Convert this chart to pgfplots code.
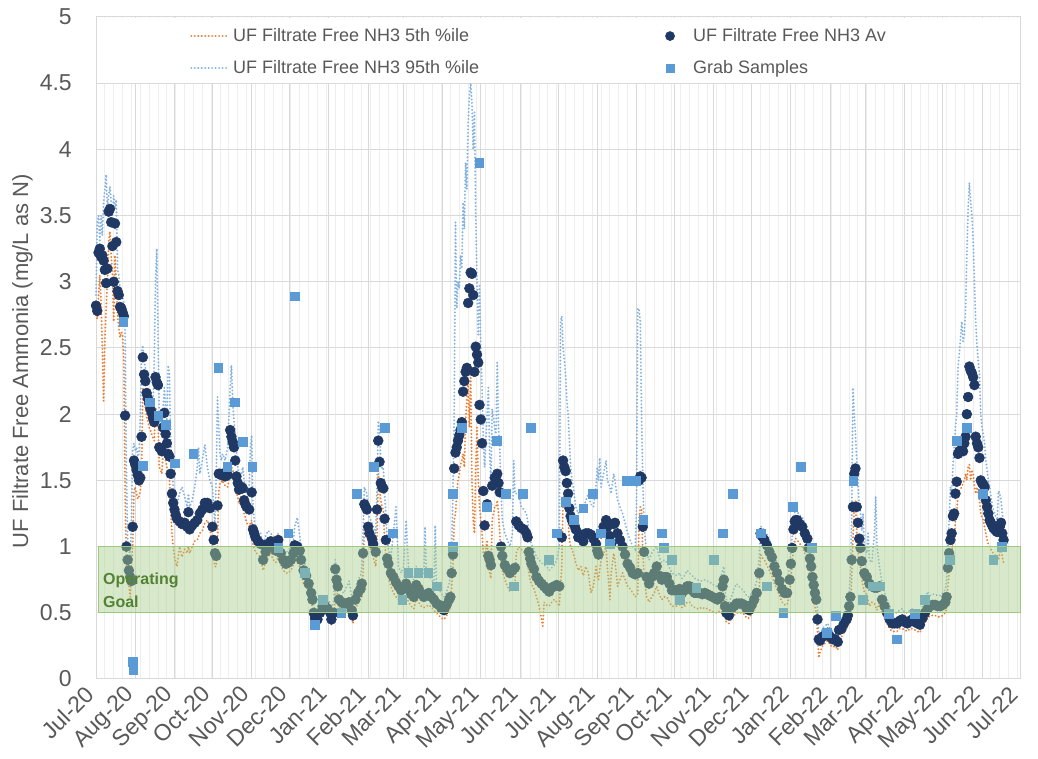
\documentclass[border=0pt]{standalone}
\usepackage{pgfplots}
\pgfplotsset{compat=1.18}
\usepackage{fontspec}
\setmainfont{Liberation Sans}
\definecolor{navy}{HTML}{203864}
\definecolor{grab}{HTML}{5B9BD5}
\definecolor{org}{HTML}{ED7D31}
\definecolor{lblue}{HTML}{84B2E0}
\definecolor{txt}{HTML}{595959}
\definecolor{gridc}{HTML}{D9D9D9}
\definecolor{gridm}{HTML}{EEEEEE}
\definecolor{bandf}{HTML}{A6CF8A}
\definecolor{bandd}{HTML}{9CC97C}
\definecolor{goal}{HTML}{548235}
\tikzset{dotline/.style={line width=1.6pt, dash pattern=on 0.01pt off 2.6pt, line cap=round}}
\begin{document}
\begin{tikzpicture}
\begin{axis}[
 set layers,
 scale only axis, width=693pt, height=496.5pt,
 xmin=0, xmax=730, ymin=0, ymax=5, clip=false,
 xtick={0,31,62,92,123,153,184,215,243,274,304,335,365,396,427,457,488,518,549,580,608,639,669,700,730},
 xticklabels={Jul-20,Aug-20,Sep-20,Oct-20,Nov-20,Dec-20,Jan-21,Feb-21,Mar-21,Apr-21,May-21,Jun-21,Jul-21,Aug-21,Sep-21,Oct-21,Nov-21,Dec-21,Jan-22,Feb-22,Mar-22,Apr-22,May-22,Jun-22,Jul-22},
 minor xtick={7,14,...,728},
 ytick={0,0.5,...,5},
 yticklabels={0,0.5,1,1.5,2,2.5,3,3.5,4,4.5,5},
 grid=both,
 major grid style={draw=gridc, line width=0.75pt},
 minor grid style={draw=gridm, line width=0.75pt},
 major tick length=0pt, minor tick length=0pt,
 axis line style={draw=gridc, line width=0.75pt},
 tick label style={font=\fontsize{17.25}{20}\selectfont, text=txt},
 xticklabel style={rotate=45, anchor=north east, inner sep=1pt, xshift=-8pt, yshift=4.8pt},
 yticklabel style={anchor=east, inner sep=0pt, xshift=-18pt},
 ylabel={UF Filtrate Free Ammonia (mg/L as N)},
 ylabel style={font=\fontsize{16.5}{19}\selectfont, text=txt, at={(rel axis cs:0,0.48)}, anchor=south, yshift=44pt},
 legend columns=2,
 legend cell align=left,
 legend image code/.code={\draw[mark repeat=2,mark phase=2,#1] plot coordinates {(0pt,0pt) (14.25pt,0pt) (28.5pt,0pt)};},
 legend style={at={(rel axis cs:0.1017,0.987)}, anchor=north west, draw=none, fill=none, inner sep=0pt,
   font=\fontsize{13.5}{16}\selectfont, text=txt, row sep=9pt,
   /tikz/every even column/.append style={column sep=128pt}},
]
% 5th percentile
\addplot[org, dotline, forget plot] coordinates {
(0,2.75)(1,2.72)(2,2.90)(3,3.05)(4,2.85)(5,2.50)(6,2.10)(7,2.55)(8,2.80)(9,3.00)(10,3.30)(11,3.38)(12,3.20)(13,3.05)(14,2.70)(15,3.20)(16,3.00)(17,2.75)(18,2.65)(19,2.58)(20,2.62)(21,2.60)(22,2.40)(23,1.40)(24,0.88)(25,0.78)(26,0.70)(27,0.62)(28,0.85)(29,1.00)(30,1.42)(31,1.45)(32,1.40)(33,1.36)(34,1.38)(35,1.42)(36,1.55)(37,2.20)(38,2.10)(39,2.05)(40,1.98)(41,1.95)(42,1.90)(43,1.88)(44,1.85)(45,1.82)(46,1.80)(47,2.05)(48,2.02)(49,1.95)(50,1.60)(51,1.58)(52,1.55)(53,1.70)(54,1.80)(55,1.65)(56,1.60)(57,1.55)(58,1.52)(59,1.30)(60,1.10)(61,1.00)(62,0.92)(63,0.88)(64,0.85)(66,1.00)(68,0.92)(70,0.98)(72,0.95)(73,1.00)(74,0.95)(76,1.00)(78,1.04)(80,1.05)(82,1.10)(84,1.12)(86,1.18)(88,1.20)(90,1.15)(92,0.98)(93,0.90)(94,0.85)(95,0.85)(96,1.05)(97,1.42)(98,1.48)(99,1.48)(100,1.50)(101,1.48)(102,1.46)(104,1.45)(106,1.55)(107,1.60)(108,1.58)(109,1.55)(110,1.50)(111,1.40)(112,1.38)(113,1.32)(115,1.35)(116,1.33)(117,1.25)(118,1.22)(119,1.18)(121,1.15)(123,1.20)(124,1.02)(125,0.98)(126,0.96)(128,0.94)(130,0.92)(132,0.82)(134,0.88)(136,0.92)(138,0.95)(140,0.90)(142,0.88)(144,0.92)(146,0.86)(148,0.82)(150,0.80)(152,0.80)(154,0.82)(156,0.86)(157,0.90)(159,0.88)(161,0.85)(162,0.80)(164,0.72)(166,0.70)(168,0.65)(170,0.58)(171,0.54)(172,0.46)(173,0.42)(175,0.40)(177,0.45)(179,0.50)(181,0.50)(183,0.48)(185,0.44)(186,0.41)(188,0.45)(189,0.72)(190,0.68)(191,0.62)(192,0.55)(194,0.52)(196,0.50)(198,0.50)(200,0.52)(202,0.46)(203,0.42)(205,0.52)(207,0.58)(209,0.60)(210,0.62)(211,0.80)(212,1.15)(213,1.18)(214,1.15)(215,1.05)(216,1.00)(218,0.96)(219,0.92)(221,0.85)(222,1.05)(223,1.55)(224,1.45)(225,1.35)(226,1.30)(227,1.28)(228,1.05)(229,0.92)(230,0.80)(231,0.76)(233,0.70)(235,0.65)(237,0.62)(239,0.60)(241,0.57)(243,0.60)(245,0.62)(247,0.58)(249,0.55)(251,0.53)(253,0.60)(255,0.58)(257,0.55)(259,0.54)(261,0.55)(263,0.56)(265,0.54)(267,0.52)(269,0.50)(271,0.48)(273,0.46)(275,0.45)(277,0.48)(279,0.52)(280,0.55)(281,0.70)(282,0.85)(283,1.20)(284,1.25)(285,1.40)(286,1.50)(287,1.55)(288,1.62)(289,1.65)(290,1.70)(291,1.60)(292,1.95)(293,2.10)(294,2.25)(295,1.90)(296,2.30)(297,1.50)(298,1.20)(299,1.10)(300,1.60)(301,1.90)(302,1.50)(303,1.30)(304,1.20)(305,1.10)(306,0.95)(307,0.92)(309,1.05)(310,0.82)(311,0.80)(312,0.76)(313,1.20)(315,1.30)(316,1.30)(317,1.35)(318,1.25)(319,1.10)(320,0.88)(321,0.82)(323,0.75)(325,0.70)(327,0.66)(329,0.70)(331,0.72)(332,0.95)(334,1.00)(336,0.98)(338,0.96)(340,0.92)(341,0.88)(342,0.80)(343,0.75)(344,0.72)(346,0.68)(348,0.62)(350,0.55)(352,0.45)(353,0.40)(354,0.58)(356,0.56)(358,0.55)(360,0.58)(362,0.60)(364,0.58)(366,0.55)(368,0.85)(369,1.35)(370,1.40)(371,1.38)(372,1.30)(373,1.20)(374,1.05)(375,1.00)(376,0.98)(377,0.95)(378,0.92)(379,0.88)(381,0.82)(383,0.85)(385,0.78)(387,0.85)(389,0.80)(391,0.65)(393,0.70)(395,0.85)(396,0.78)(397,0.75)(399,0.90)(401,0.95)(403,1.00)(404,0.85)(406,0.60)(407,0.80)(409,0.95)(410,0.90)(412,0.70)(414,0.75)(416,0.80)(418,0.75)(420,0.70)(422,0.68)(424,0.65)(426,0.62)(428,0.64)(429,1.20)(430,1.30)(431,1.28)(432,0.95)(433,0.78)(435,0.62)(437,0.58)(439,0.62)(441,0.65)(443,0.70)(445,0.64)(447,0.60)(449,0.62)(451,0.62)(453,0.58)(455,0.55)(457,0.55)(459,0.55)(461,0.56)(463,0.54)(465,0.55)(467,0.58)(469,0.58)(471,0.55)(473,0.54)(475,0.53)(477,0.54)(479,0.53)(481,0.54)(483,0.53)(485,0.52)(487,0.51)(489,0.50)(491,0.50)(493,0.52)(495,0.60)(496,0.64)(497,0.47)(498,0.43)(500,0.42)(502,0.46)(504,0.48)(506,0.50)(508,0.50)(510,0.50)(512,0.49)(514,0.46)(516,0.46)(518,0.49)(520,0.52)(522,0.56)(524,0.70)(525,0.95)(526,0.92)(528,0.90)(530,0.86)(532,0.82)(534,0.78)(536,0.72)(538,0.68)(540,0.63)(542,0.58)(544,0.56)(546,0.56)(548,0.64)(549,0.75)(550,0.86)(551,0.98)(552,1.05)(553,1.06)(554,1.05)(556,1.02)(558,1.00)(560,0.95)(562,0.92)(563,0.86)(564,0.78)(565,0.72)(566,0.66)(567,0.60)(568,0.55)(569,0.50)(570,0.35)(571,0.16)(572,0.20)(574,0.25)(576,0.27)(578,0.29)(580,0.26)(582,0.24)(584,0.25)(586,0.22)(587,0.30)(589,0.32)(591,0.35)(593,0.38)(594,0.40)(595,0.46)(596,0.52)(597,0.75)(598,1.05)(599,1.30)(600,1.35)(601,1.10)(602,0.98)(603,0.90)(604,0.84)(605,0.75)(607,0.66)(609,0.64)(611,0.55)(613,0.58)(615,0.57)(617,0.52)(619,0.58)(621,0.50)(623,0.46)(625,0.42)(627,0.38)(629,0.36)(631,0.36)(633,0.36)(635,0.38)(637,0.38)(639,0.37)(641,0.36)(643,0.38)(645,0.38)(647,0.37)(649,0.36)(651,0.35)(653,0.40)(655,0.43)(657,0.46)(659,0.48)(661,0.48)(663,0.48)(665,0.47)(667,0.47)(669,0.48)(671,0.50)(672,0.53)(673,0.70)(674,0.80)(675,0.90)(676,0.95)(677,1.05)(678,1.05)(679,1.20)(680,1.25)(681,1.40)(682,1.42)(684,1.45)(685,1.48)(686,1.50)(687,1.55)(688,1.50)(689,1.60)(690,1.62)(691,1.50)(692,1.58)(693,1.55)(694,1.45)(695,1.40)(696,1.45)(697,1.40)(698,1.35)(699,1.25)(700,1.22)(701,1.20)(702,1.15)(703,1.10)(704,1.05)(705,1.02)(706,1.00)(707,0.98)(708,0.96)(709,0.95)(710,0.94)(711,0.93)(712,0.92)(713,0.90)(714,0.95)(715,1.00)(716,0.92)(717,0.88)
};
% Average
\addplot[only marks, mark=*, mark size=3.7pt, mark options={draw=navy, fill=navy}, forget plot] coordinates {
(0,2.82)(1,2.78)(2,3.22)(3,3.25)(4,3.19)(5,3.20)(6,3.16)(7,3.09)(8,2.99)(9,3.10)(10,3.53)(11,3.55)(12,3.45)(13,3.27)(14,3.00)(15,3.44)(16,3.30)(17,2.93)(18,2.90)(19,2.81)(20,2.80)(21,2.77)(22,2.74)(23,1.99)(24,1.00)(25,0.90)(26,0.82)(27,0.77)(28,0.74)(29,1.15)(30,1.65)(31,1.62)(32,1.58)(33,1.54)(34,1.50)(35,1.52)(36,1.83)(37,2.43)(38,2.30)(39,2.25)(40,2.16)(41,2.12)(42,2.08)(43,2.04)(44,2.01)(45,1.97)(46,1.94)(47,2.28)(48,2.24)(49,2.22)(50,1.75)(51,1.74)(52,1.72)(53,1.90)(54,2.01)(55,1.85)(56,1.78)(57,1.70)(58,1.68)(59,1.55)(60,1.40)(61,1.33)(62,1.28)(63,1.24)(64,1.21)(66,1.19)(68,1.17)(70,1.18)(72,1.15)(73,1.26)(74,1.13)(76,1.16)(78,1.18)(80,1.20)(82,1.25)(84,1.28)(86,1.33)(88,1.33)(90,1.29)(92,1.15)(93,1.05)(94,0.95)(95,0.93)(96,1.31)(97,1.55)(98,1.55)(99,1.54)(100,1.55)(101,1.54)(102,1.53)(104,1.54)(106,1.88)(107,1.83)(108,1.79)(109,1.75)(110,1.65)(111,1.53)(112,1.48)(113,1.43)(115,1.45)(116,1.44)(117,1.35)(118,1.32)(119,1.30)(121,1.28)(123,1.41)(124,1.13)(125,1.10)(126,1.07)(128,1.04)(130,1.02)(132,0.90)(134,0.96)(136,1.02)(138,1.04)(140,1.00)(142,0.97)(144,1.05)(146,0.95)(148,0.90)(150,0.87)(152,0.88)(154,0.90)(156,0.95)(157,1.01)(159,1.00)(161,0.97)(162,0.90)(164,0.82)(166,0.78)(168,0.72)(170,0.65)(171,0.60)(172,0.50)(173,0.46)(175,0.45)(177,0.50)(179,0.55)(181,0.55)(183,0.53)(185,0.50)(186,0.45)(188,0.50)(189,0.83)(190,0.75)(191,0.70)(192,0.60)(194,0.58)(196,0.57)(198,0.57)(200,0.58)(202,0.52)(203,0.48)(205,0.60)(207,0.65)(209,0.68)(210,0.72)(211,0.95)(212,1.32)(213,1.30)(214,1.28)(215,1.15)(216,1.10)(218,1.06)(219,1.02)(221,0.96)(222,1.28)(223,1.80)(224,1.64)(225,1.48)(226,1.45)(227,1.44)(228,1.21)(229,1.05)(230,0.91)(231,0.87)(233,0.80)(235,0.77)(237,0.73)(239,0.70)(241,0.67)(243,0.68)(245,0.72)(247,0.68)(249,0.64)(251,0.62)(253,0.71)(255,0.68)(257,0.64)(259,0.62)(261,0.64)(263,0.65)(265,0.62)(267,0.60)(269,0.57)(271,0.56)(273,0.53)(275,0.52)(277,0.56)(279,0.60)(280,0.62)(281,0.80)(282,0.94)(283,1.59)(284,1.71)(285,1.75)(286,1.80)(287,1.84)(288,1.88)(289,1.94)(290,2.17)(291,2.25)(292,2.32)(293,2.35)(294,2.84)(295,2.95)(296,3.07)(297,3.06)(298,2.90)(299,2.32)(300,2.51)(301,2.45)(302,2.39)(303,2.07)(304,1.96)(305,1.78)(306,1.42)(307,1.16)(309,1.32)(310,0.93)(311,0.90)(312,0.86)(313,1.46)(315,1.52)(316,1.50)(317,1.55)(318,1.48)(319,1.41)(320,1.00)(321,0.93)(323,0.86)(325,0.83)(327,0.80)(329,0.82)(331,0.84)(332,1.19)(334,1.16)(336,1.14)(338,1.13)(340,1.10)(341,1.07)(342,0.96)(343,0.91)(344,0.87)(346,0.83)(348,0.77)(350,0.74)(352,0.72)(354,0.70)(356,0.68)(358,0.66)(360,0.69)(362,0.70)(364,0.71)(366,0.70)(368,1.07)(369,1.65)(370,1.60)(371,1.57)(372,1.48)(373,1.40)(374,1.29)(375,1.23)(376,1.20)(377,1.18)(378,1.16)(379,1.13)(381,1.07)(383,1.09)(385,1.04)(387,1.10)(389,1.10)(391,1.09)(393,1.06)(395,1.02)(396,0.97)(397,0.94)(399,1.10)(401,1.15)(403,1.20)(404,1.15)(406,1.08)(407,1.02)(409,1.17)(410,1.18)(412,1.10)(414,1.05)(416,1.00)(418,0.94)(420,0.87)(422,0.84)(424,0.80)(426,0.79)(428,0.80)(429,1.50)(430,1.53)(431,1.52)(432,1.15)(433,0.96)(435,0.77)(437,0.72)(439,0.77)(441,0.80)(443,0.85)(445,0.78)(447,0.75)(449,0.77)(451,0.77)(453,0.72)(455,0.67)(457,0.67)(459,0.67)(461,0.68)(463,0.65)(465,0.67)(467,0.70)(469,0.70)(471,0.67)(473,0.65)(475,0.65)(477,0.65)(479,0.64)(481,0.65)(483,0.64)(485,0.63)(487,0.62)(489,0.61)(491,0.60)(493,0.62)(495,0.70)(496,0.75)(497,0.55)(498,0.50)(500,0.48)(502,0.53)(504,0.55)(506,0.57)(508,0.57)(510,0.57)(512,0.56)(514,0.53)(516,0.52)(518,0.56)(520,0.60)(522,0.65)(524,0.80)(525,1.10)(526,1.08)(528,1.05)(530,1.01)(532,0.96)(534,0.92)(536,0.85)(538,0.80)(540,0.74)(542,0.68)(544,0.65)(546,0.65)(548,0.75)(549,0.87)(550,0.99)(551,1.13)(552,1.19)(553,1.20)(554,1.20)(556,1.17)(558,1.15)(560,1.10)(562,1.06)(563,0.99)(564,0.91)(565,0.85)(566,0.77)(567,0.71)(568,0.65)(569,0.60)(570,0.45)(571,0.30)(572,0.29)(574,0.32)(576,0.33)(578,0.35)(580,0.32)(582,0.30)(584,0.30)(586,0.28)(587,0.37)(589,0.38)(591,0.42)(593,0.45)(594,0.48)(595,0.55)(596,0.62)(597,0.90)(598,1.30)(599,1.55)(600,1.59)(601,1.30)(602,1.18)(603,1.06)(604,0.99)(605,0.89)(607,0.80)(609,0.77)(611,0.72)(613,0.70)(615,0.69)(617,0.69)(619,0.70)(621,0.60)(623,0.55)(625,0.50)(627,0.45)(629,0.42)(631,0.42)(633,0.42)(635,0.44)(637,0.45)(639,0.43)(641,0.42)(643,0.44)(645,0.45)(647,0.43)(649,0.42)(651,0.41)(653,0.46)(655,0.50)(657,0.53)(659,0.55)(661,0.56)(663,0.56)(665,0.55)(667,0.55)(669,0.56)(671,0.58)(672,0.62)(673,0.84)(674,0.95)(675,1.05)(676,1.10)(677,1.23)(678,1.25)(679,1.40)(680,1.49)(681,1.70)(682,1.72)(684,1.74)(685,1.72)(686,1.78)(687,1.83)(688,2.00)(689,2.13)(690,2.36)(691,2.33)(692,2.31)(693,2.28)(694,2.22)(695,1.83)(696,1.78)(697,1.75)(698,1.67)(699,1.50)(700,1.48)(701,1.47)(702,1.45)(703,1.35)(704,1.30)(705,1.25)(706,1.20)(707,1.18)(708,1.16)(709,1.14)(710,1.13)(711,1.12)(712,1.11)(713,1.12)(714,1.15)(715,1.18)(716,1.10)(717,1.05)
};
% 95th percentile
\addplot[lblue, dotline, forget plot] coordinates {
(0,2.90)(1,3.45)(2,3.50)(3,3.30)(4,3.50)(5,3.35)(6,3.60)(7,3.70)(8,3.81)(9,3.55)(10,3.65)(11,3.72)(12,3.60)(13,3.50)(14,3.65)(15,3.55)(16,3.62)(17,3.10)(18,3.05)(19,2.95)(20,2.92)(21,2.88)(22,2.85)(23,2.60)(24,1.60)(25,1.05)(26,0.98)(27,0.92)(28,1.20)(29,1.73)(30,1.78)(31,1.72)(32,1.75)(33,1.68)(34,1.70)(35,2.00)(36,2.47)(37,2.52)(38,2.40)(39,2.35)(40,2.25)(41,2.20)(42,2.18)(43,2.15)(44,2.10)(45,2.05)(46,2.40)(47,3.00)(48,3.25)(49,2.60)(50,2.00)(51,1.90)(52,1.85)(53,2.05)(54,2.20)(55,2.05)(56,1.95)(57,2.37)(58,2.30)(59,1.80)(60,1.60)(61,1.45)(62,1.40)(63,1.35)(64,1.32)(66,1.40)(68,1.45)(70,1.38)(72,1.30)(73,1.40)(74,1.30)(76,1.35)(78,1.45)(80,1.60)(81,1.75)(82,1.55)(84,1.65)(86,1.77)(88,1.60)(90,1.50)(92,1.45)(93,1.30)(94,1.15)(95,1.55)(96,2.13)(97,1.90)(98,1.70)(99,1.65)(100,1.70)(101,1.68)(102,1.65)(104,1.75)(106,2.20)(107,2.37)(108,2.10)(109,1.95)(110,1.85)(111,1.70)(112,1.60)(113,1.55)(115,1.55)(116,1.60)(117,1.50)(118,1.45)(119,1.40)(121,1.45)(122,1.75)(123,1.84)(124,1.30)(125,1.20)(126,1.15)(128,1.12)(130,1.10)(132,1.00)(134,1.08)(136,1.12)(138,1.10)(140,1.08)(142,1.05)(144,1.10)(146,1.02)(148,0.98)(150,0.95)(152,0.97)(154,1.00)(156,1.05)(157,1.15)(159,1.22)(161,1.08)(162,1.00)(164,0.90)(166,0.85)(168,0.80)(170,0.72)(171,0.66)(172,0.56)(173,0.52)(175,0.52)(177,0.57)(179,0.62)(181,0.62)(183,0.60)(185,0.57)(186,0.52)(188,0.60)(189,0.90)(190,0.83)(191,0.78)(192,0.68)(194,0.66)(196,0.65)(198,0.70)(200,0.74)(202,0.62)(203,0.56)(205,0.68)(207,0.75)(209,0.78)(210,0.85)(211,1.10)(212,1.45)(213,1.42)(214,1.40)(215,1.25)(216,1.22)(218,1.18)(219,1.15)(221,1.10)(222,1.45)(223,1.95)(224,1.88)(225,1.65)(226,1.58)(227,1.60)(228,1.40)(229,1.25)(230,1.05)(231,0.98)(233,0.92)(235,1.10)(237,1.30)(239,0.85)(241,0.80)(243,0.85)(245,1.20)(247,0.82)(249,0.78)(251,0.75)(253,0.85)(255,0.82)(257,0.78)(259,0.80)(260,1.15)(261,0.78)(263,0.78)(265,0.75)(267,0.72)(268,1.16)(269,0.70)(271,0.68)(273,0.64)(275,0.62)(277,0.66)(279,0.72)(280,0.80)(281,1.00)(282,1.40)(283,2.00)(284,3.45)(285,2.80)(286,3.00)(287,2.95)(288,3.20)(289,3.10)(290,3.60)(291,3.40)(292,3.90)(293,3.70)(294,4.20)(295,4.40)(296,4.50)(297,4.35)(298,4.00)(299,4.28)(300,3.50)(301,3.00)(302,2.60)(303,2.97)(304,2.50)(305,2.20)(306,1.80)(307,1.60)(309,2.00)(310,2.20)(311,1.70)(312,1.50)(313,2.04)(315,1.90)(316,1.85)(317,2.39)(318,1.90)(319,1.75)(320,1.40)(321,1.20)(323,1.10)(325,1.05)(327,1.00)(329,1.10)(330,1.65)(331,1.40)(332,1.40)(334,1.38)(336,1.30)(338,1.28)(340,1.25)(341,1.20)(342,1.10)(344,1.02)(346,0.98)(348,0.92)(350,0.90)(352,0.88)(354,0.86)(356,0.85)(358,0.82)(360,0.84)(362,0.86)(364,0.90)(366,1.00)(367,2.70)(368,2.74)(369,2.50)(370,2.41)(371,2.30)(372,2.10)(373,2.00)(374,1.80)(375,1.60)(376,1.50)(377,1.45)(378,1.38)(379,1.30)(381,1.25)(383,1.30)(385,1.28)(387,1.35)(389,1.40)(391,1.32)(393,1.30)(395,1.45)(396,1.60)(397,1.50)(398,1.67)(399,1.45)(401,1.55)(403,1.65)(404,1.50)(406,1.45)(407,1.40)(409,1.55)(410,1.50)(412,1.35)(414,1.30)(416,1.25)(418,1.18)(420,1.10)(422,1.05)(424,1.00)(426,0.98)(427,1.30)(428,2.80)(429,2.79)(430,2.70)(431,2.00)(432,1.50)(433,1.15)(435,0.95)(437,0.90)(439,0.95)(441,0.98)(443,1.00)(445,0.92)(447,0.88)(449,0.90)(451,0.88)(453,0.84)(455,0.80)(457,0.79)(459,0.78)(461,0.80)(463,0.76)(465,0.78)(467,0.82)(469,0.80)(471,0.78)(473,0.76)(475,0.75)(477,0.74)(479,0.74)(481,0.75)(483,0.74)(485,0.73)(487,0.72)(489,0.70)(491,0.70)(493,0.73)(495,0.82)(496,0.85)(497,0.66)(498,0.60)(500,0.58)(502,0.62)(504,0.68)(506,0.72)(508,0.70)(510,0.68)(512,0.66)(514,0.63)(516,0.62)(518,0.65)(520,0.68)(522,0.74)(524,0.92)(525,1.15)(526,1.15)(528,1.12)(530,1.10)(532,1.05)(534,1.00)(536,0.93)(538,0.88)(540,0.82)(542,0.76)(544,0.74)(546,0.74)(548,0.85)(549,0.97)(550,1.08)(551,1.22)(552,1.26)(553,1.28)(554,1.26)(556,1.24)(558,1.22)(560,1.18)(562,1.12)(563,1.05)(564,0.98)(565,0.92)(566,0.85)(567,0.78)(568,0.72)(569,0.66)(570,0.52)(571,0.36)(572,0.34)(574,0.38)(576,0.40)(578,0.42)(580,0.38)(582,0.36)(584,0.36)(586,0.34)(587,0.42)(589,0.45)(591,0.50)(593,0.53)(594,0.56)(595,0.64)(596,0.80)(597,1.20)(598,2.20)(599,2.00)(600,1.85)(601,1.65)(602,1.50)(603,1.30)(604,1.26)(605,1.12)(606,1.25)(607,1.00)(609,0.95)(610,1.10)(611,0.90)(613,0.88)(615,1.10)(616,1.38)(617,1.00)(619,0.85)(621,0.72)(623,0.65)(625,0.60)(627,0.55)(629,0.50)(631,0.50)(633,0.50)(635,0.52)(637,0.53)(639,0.50)(641,0.50)(643,0.52)(645,0.53)(647,0.51)(649,0.50)(651,0.49)(653,0.55)(655,0.60)(657,0.66)(659,0.63)(661,0.64)(663,0.64)(665,0.63)(667,0.63)(669,0.65)(671,0.68)(672,0.75)(673,1.00)(674,1.20)(675,1.45)(676,1.40)(677,1.60)(678,1.75)(679,1.90)(680,2.00)(681,2.35)(682,2.45)(684,2.70)(685,2.55)(686,2.60)(687,2.80)(688,3.20)(689,3.55)(690,3.75)(691,3.60)(692,3.50)(693,3.30)(694,3.00)(695,2.70)(696,2.52)(697,2.40)(698,2.30)(699,2.00)(700,1.90)(701,1.85)(702,1.78)(703,1.65)(704,1.58)(705,1.50)(706,1.45)(707,1.38)(708,1.32)(709,1.28)(710,1.25)(711,1.22)(712,1.20)(713,1.42)(714,1.40)(715,1.35)(716,1.25)(717,1.18)
};
% Grab samples
\addplot[only marks, mark=square*, mark size=3.3pt, mark options={draw=grab, fill=grab}, forget plot] coordinates {
(21.6,2.70)(29,0.13)(29.5,0.07)(36.8,1.61)(42.7,2.09)(49.2,1.99)(55.3,1.92)(62.4,1.63)(76.9,1.70)(96.6,2.35)(103.7,1.60)(109.8,2.09)(115.9,1.79)(123.5,1.60)(144,0.99)(151.9,1.10)(157.2,2.89)(165.1,0.80)(173,0.41)(179.3,0.60)(193.7,0.50)(205.9,1.40)(219.3,1.60)(227.9,1.90)(234.7,1.10)(242,0.60)(246.7,0.80)(254.6,0.80)(262.5,0.80)(269.1,0.70)(281.8,1.40)(281.8,1.00)(288.9,1.90)(302.8,3.90)(308.9,1.30)(316.5,1.80)(323.9,1.40)(330,0.70)(337.1,1.40)(343.4,1.90)(357.5,0.90)(364.2,1.10)(371.3,1.34)(377.6,1.20)(385,1.29)(392.2,1.40)(398.8,1.10)(405.7,1.02)(419.2,1.50)(426.8,1.50)(432.4,1.20)(446.9,1.10)(448.7,0.99)(454.8,0.90)(461.1,0.60)(474.3,0.69)(488.2,0.90)(495,1.10)(503,1.40)(525.1,1.10)(529.8,0.70)(543,0.50)(550.3,1.30)(556.7,1.60)(565.4,0.99)(577.2,0.35)(584.6,0.48)(598.3,1.50)(605.7,0.60)(613.6,0.70)(619.4,0.70)(626,0.49)(632.6,0.30)(647,0.49)(654.9,0.60)(674.2,0.90)(680,1.80)(687.9,1.90)(700.5,1.40)(708.9,0.90)(715.5,1.00)
};
% Operating goal band (drawn over the data)
\addplot[on layer=axis foreground, fill=bandf, fill opacity=0.45, draw=bandd, line width=0.75pt, forget plot] coordinates {(2,0.5)(730,0.5)(730,1)(2,1)(2,0.5)};
% legend backing
\addplot[fill=white, draw=none, forget plot] coordinates {(0.4,4.505)(729.6,4.505)(729.6,4.995)(0.4,4.995)};
\begin{pgfonlayer}{axis foreground}
\node[anchor=west, align=left, font=\bfseries\fontsize{12}{17.25}\selectfont, text=goal, inner sep=4pt] at (axis cs:1.2,0.672) {Operating\\Goal};
\end{pgfonlayer}
\addlegendimage{org, dotline}
\addlegendentry{UF Filtrate Free NH3 5th \%ile}
\addlegendimage{legend image code/.code={\path[draw=none, fill=none] (0pt,-3pt) rectangle (28.5pt,3pt); \fill[navy] (13.2pt,0pt) circle (3.4pt);}}
\addlegendentry{UF Filtrate Free NH3 Av}
\addlegendimage{lblue, dotline}
\addlegendentry{UF Filtrate Free NH3 95th \%ile}
\addlegendimage{legend image code/.code={\path[draw=none, fill=none] (0pt,-3pt) rectangle (28.5pt,3pt); \fill[grab] (10.4pt,-2.8pt) rectangle (16pt,2.8pt);}}
\addlegendentry{Grab Samples}
\end{axis}
\pgfresetboundingbox
\path[use as bounding box] ([shift={(-72pt,-60pt)}]current axis.south west) rectangle ([shift={(13.5pt,12.75pt)}]current axis.north east);
\end{tikzpicture}
\end{document}
